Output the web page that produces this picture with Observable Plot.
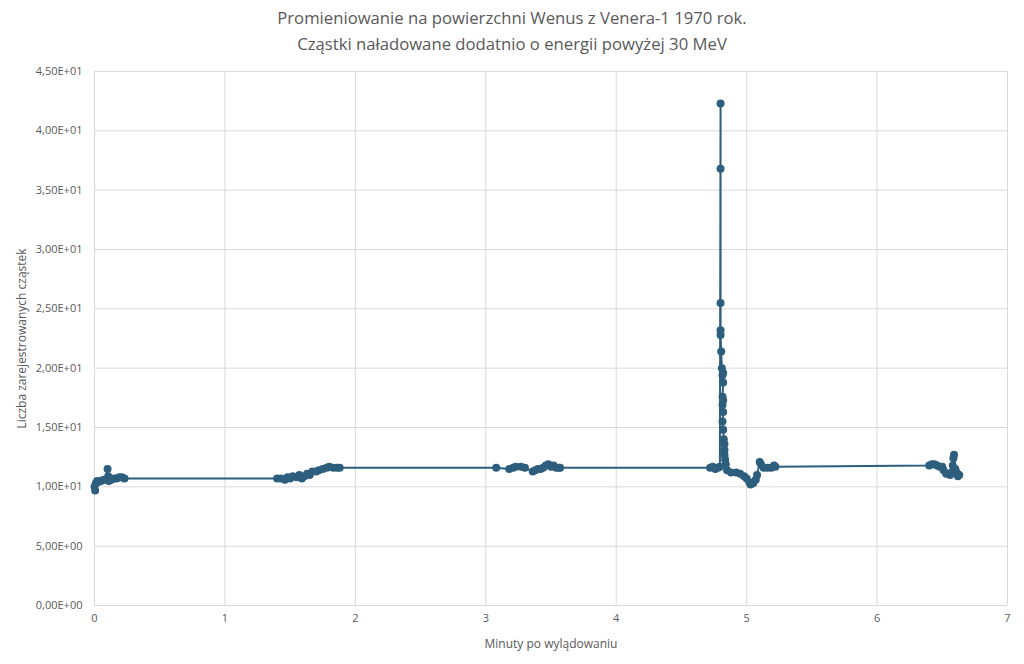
<!DOCTYPE html>
<html>
<head>
<meta charset="utf-8">
<script src="https://cdn.jsdelivr.net/npm/d3@7"></script>
<script src="https://cdn.jsdelivr.net/npm/@observablehq/plot@0.6"></script>
<style>
  html, body { margin: 0; padding: 0; background: #fff; }
  #title { width: 1024px; height: 60px; text-align: center; font-family: "Open Sans", sans-serif;
           font-size: 16.7px; line-height: 26px; color: #595959; padding-top: 5px; box-sizing: border-box; }
  #chart svg { display: block; }
</style>
</head>
<body>
<div id="title">Promieniowanie na powierzchni Wenus z Venera-1 1970 rok.<br>Cząstki naładowane dodatnio o energii powyżej 30 MeV</div>
<div id="chart"></div>
<script>
const titleLines = ["Promieniowanie na powierzchni Wenus z Venera-1 1970 rok.", "Cząstki naładowane dodatnio o energii powyżej 30 MeV"];
const xLabel = "Minuty po wylądowaniu";
const yLabel = "Liczba zarejestrowanych cząstek";
const xTicks = [0, 1, 2, 3, 4, 5, 6, 7];
const yTicks = [0, 5, 10, 15, 20, 25, 30, 35, 40, 45];

// minutes after landing
const minutes = [
  0.00, 0.005, 0.01, 0.02, 0.03, 0.05, 0.07, 0.09, 0.10, 0.105, 0.11, 0.13, 0.15, 0.17, 0.19, 0.21, 0.23,
  1.40, 1.43, 1.46, 1.48, 1.50, 1.52, 1.55, 1.57, 1.59, 1.61, 1.63, 1.65, 1.67, 1.70, 1.72, 1.75, 1.78, 1.80, 1.83, 1.86, 1.88,
  3.08, 3.18, 3.21, 3.23, 3.27, 3.30, 3.36, 3.38, 3.40, 3.42, 3.44, 3.46, 3.48, 3.50, 3.52, 3.54, 3.56, 3.57,
  4.72, 4.74, 4.76, 4.78, 4.795, 4.80, 4.80, 4.80, 4.80, 4.80, 4.805, 4.81, 4.82, 4.815, 4.82, 4.815, 4.82, 4.815, 4.82, 4.815, 4.82, 4.825, 4.83, 4.83, 4.83, 4.835, 4.84, 4.85,
  4.88, 4.92, 4.95, 4.98, 5.00, 5.02, 5.03, 5.05, 5.07, 5.08, 5.10, 5.11, 5.13, 5.16, 5.19, 5.21, 5.22,
  6.40, 6.42, 6.44, 6.46, 6.48, 6.50, 6.51, 6.53, 6.56, 6.57, 6.58, 6.585, 6.59, 6.60, 6.61, 6.62, 6.63
];
// registered particle counts
const counts = [
  10.0, 9.7, 10.3, 10.5, 10.4, 10.5, 10.6, 10.6, 11.5, 10.9, 10.5, 10.6, 10.7, 10.7, 10.8, 10.8, 10.7,
  10.7, 10.7, 10.6, 10.8, 10.7, 10.9, 10.8, 11.0, 10.7, 10.9, 11.1, 11.0, 11.3, 11.3, 11.4, 11.5, 11.6, 11.7, 11.6, 11.6, 11.6,
  11.6, 11.5, 11.6, 11.7, 11.7, 11.6, 11.3, 11.4, 11.5, 11.5, 11.6, 11.8, 11.9, 11.7, 11.8, 11.6, 11.6, 11.6,
  11.6, 11.7, 11.5, 11.6, 11.7, 42.3, 36.8, 25.5, 23.2, 22.8, 21.4, 20.0, 19.6, 19.4, 18.8, 17.6, 17.3, 16.9, 16.3, 15.5, 14.8, 14.0, 13.6, 13.1, 12.7, 12.3, 11.9, 11.4,
  11.2, 11.2, 11.1, 10.9, 10.7, 10.4, 10.2, 10.3, 10.6, 11.0, 12.1, 11.9, 11.6, 11.6, 11.6, 11.8, 11.7,
  11.8, 11.9, 11.9, 11.8, 11.7, 11.7, 11.4, 11.1, 11.0, 11.2, 11.8, 12.4, 12.7, 11.5, 11.2, 10.9, 11.0
];

const data = minutes.map((m, i) => ({minute: m, count: counts[i]}));
const color = "#2E5E7E";
const grid = "#d9d9d9";
const textColor = "#595959";

function sci(d) {
  if (d === 0) return "0,00E+00";
  const e = Math.floor(Math.log10(d));
  const m = d / Math.pow(10, e);
  return m.toFixed(2).replace(".", ",") + "E" + (e >= 0 ? "+" : "-") + String(Math.abs(e)).padStart(2, "0");
}

const chart = Plot.plot({
  width: 1024,
  height: 604,
  marginLeft: 94,
  marginRight: 17,
  marginTop: 11,
  marginBottom: 59,
  style: {fontFamily: "'Open Sans', sans-serif", fontSize: "11px", color: textColor, background: "#fff"},
  x: {domain: [0, 7], ticks: xTicks},
  y: {domain: [0, 45], ticks: yTicks},
  marks: [
    Plot.gridX(xTicks, {stroke: grid, strokeOpacity: 1}),
    Plot.gridY(yTicks, {stroke: grid, strokeOpacity: 1}),
    Plot.axisX(xTicks, {tickSize: 0, tickPadding: 9, fontSize: 11, tickFormat: d => String(d), label: xLabel, labelAnchor: "center", labelOffset: 42, labelArrow: "none"}),
    Plot.axisY(yTicks, {tickSize: 0, tickPadding: 12, tickFormat: sci, fontSize: 11, label: yLabel, labelAnchor: "center", labelOffset: 77, labelArrow: "none"}),
    Plot.line(data, {x: "minute", y: "count", stroke: color, strokeWidth: 2}),
    Plot.dot(data, {x: "minute", y: "count", r: 4, fill: color, stroke: "none"})
  ]
});
d3.select(chart).selectAll("[aria-label='x-axis label'] text, [aria-label='y-axis label'] text").style("font-size", "12px");
document.getElementById("chart").appendChild(chart);
</script>
</body>
</html>
